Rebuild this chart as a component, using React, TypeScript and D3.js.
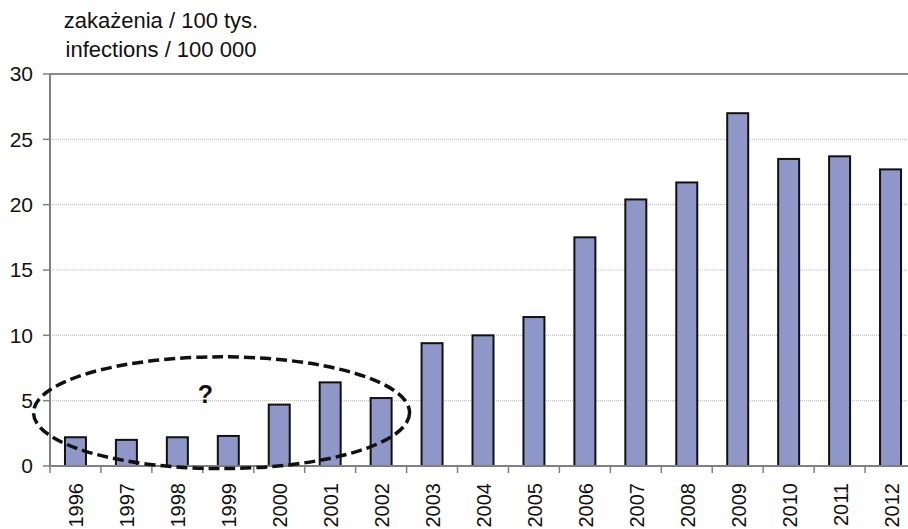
import React, { useEffect, useRef } from 'react';
import * as d3 from 'd3';

const years = ['1996', '1997', '1998', '1999', '2000', '2001', '2002', '2003', '2004', '2005', '2006', '2007', '2008', '2009', '2010', '2011', '2012'];
const rates = [2.2, 2.0, 2.2, 2.3, 4.7, 6.4, 5.2, 9.4, 10.0, 11.4, 17.5, 20.4, 21.7, 27.0, 23.5, 23.7, 22.7];
const yTicks = [0, 5, 10, 15, 20, 25, 30];
const titleLines = ['zakażenia / 100 tys.', 'infections / 100 000'];

const W = 908;
const H = 529;
const FONT = '"Liberation Sans", Arial, sans-serif';

const App = () => {
    const svgRef = useRef(null);

    useEffect(() => {
        document.body.style.margin = '0';
        const svg = d3.select(svgRef.current);
        svg.selectAll('*').remove();

        const margin = { top: 74, right: -8, bottom: 63, left: 50 };

        const x = d3.scaleBand()
            .domain(years)
            .range([margin.left, W - margin.right])
            .paddingInner(0.588)
            .paddingOuter(0.294);

        const y = d3.scaleLinear()
            .domain([0, 30])
            .range([H - margin.bottom, margin.top]);

        const step = x.step();
        const gap = step * x.paddingInner();

        // gridlines
        svg.append('g')
            .selectAll('line')
            .data(yTicks.filter(t => t > 0 && t < 30))
            .join('line')
            .attr('x1', margin.left)
            .attr('x2', W)
            .attr('y1', d => y(d))
            .attr('y2', d => y(d))
            .attr('stroke', '#b8b8b8')
            .attr('stroke-width', 1)
            .attr('stroke-dasharray', '1,1');

        // top border of plot area
        svg.append('line')
            .attr('x1', margin.left)
            .attr('x2', W)
            .attr('y1', y(30))
            .attr('y2', y(30))
            .attr('stroke', '#8a8a8a')
            .attr('stroke-width', 2);

        // bars
        svg.append('g')
            .selectAll('rect')
            .data(rates)
            .join('rect')
            .attr('x', (d, i) => x(years[i]))
            .attr('y', d => y(d))
            .attr('width', x.bandwidth())
            .attr('height', d => y(0) - y(d))
            .attr('fill', '#8f97c8')
            .attr('stroke', '#111')
            .attr('stroke-width', 2);

        // y axis
        svg.append('line')
            .attr('x1', margin.left).attr('x2', margin.left)
            .attr('y1', y(30)).attr('y2', y(0))
            .attr('stroke', '#808080').attr('stroke-width', 2);

        const yAxis = svg.append('g');
        yTicks.forEach(t => {
            yAxis.append('line')
                .attr('x1', margin.left - 7).attr('x2', margin.left)
                .attr('y1', y(t)).attr('y2', y(t))
                .attr('stroke', '#808080').attr('stroke-width', 1.5);
            yAxis.append('text')
                .attr('x', 33)
                .attr('y', y(t))
                .attr('dy', '0.35em')
                .attr('text-anchor', 'end')
                .style('font-family', FONT)
                .style('font-size', '21px')
                .attr('fill', '#111')
                .text(t);
        });

        // x axis
        svg.append('line')
            .attr('x1', margin.left).attr('x2', W)
            .attr('y1', y(0)).attr('y2', y(0))
            .attr('stroke', '#808080').attr('stroke-width', 2);

        const xAxis = svg.append('g');
        years.forEach(yr => {
            const bx = x(yr) - gap / 2;
            xAxis.append('line')
                .attr('x1', bx).attr('x2', bx)
                .attr('y1', y(0)).attr('y2', y(0) + 7)
                .attr('stroke', '#808080').attr('stroke-width', 1.5);
            const cx = x(yr) + x.bandwidth() / 2;
            xAxis.append('text')
                .attr('transform', `translate(${cx + 1},${y(0) + 17}) rotate(-90)`)
                .attr('dy', '0.35em')
                .attr('text-anchor', 'end')
                .style('font-family', FONT)
                .style('font-size', '20px')
                .attr('fill', '#111')
                .text(yr);
        });

        // title
        titleLines.forEach((line, i) => {
            svg.append('text')
                .attr('x', 161)
                .attr('y', 28 + i * 29)
                .attr('text-anchor', 'middle')
                .style('font-family', FONT)
                .style('font-size', '22px')
                .attr('fill', '#111')
                .text(line);
        });

        // annotation: dashed ellipse around the uncertain years
        const left = x('1996') - gap * 1.05;
        const right = x('2002') + x.bandwidth() + gap * 0.6;
        svg.append('ellipse')
            .attr('cx', (left + right) / 2)
            .attr('cy', y(4.08))
            .attr('rx', (right - left) / 2)
            .attr('ry', y(0) - y(4.2) + 1)
            .attr('fill', 'none')
            .attr('stroke', '#111')
            .attr('stroke-width', 3.5)
            .attr('stroke-dasharray', '11,5');

        svg.append('text')
            .attr('x', x('1999') - gap / 2 + 2.5)
            .attr('y', y(4.8))
            .attr('text-anchor', 'middle')
            .style('font-family', FONT)
            .style('font-size', '25px')
            .style('font-weight', 'bold')
            .attr('fill', '#111')
            .text('?');
    }, []);

    return (
        <svg ref={svgRef} width={W} height={H} style={{ display: 'block', background: '#fff' }} />
    );
};

export default App;
